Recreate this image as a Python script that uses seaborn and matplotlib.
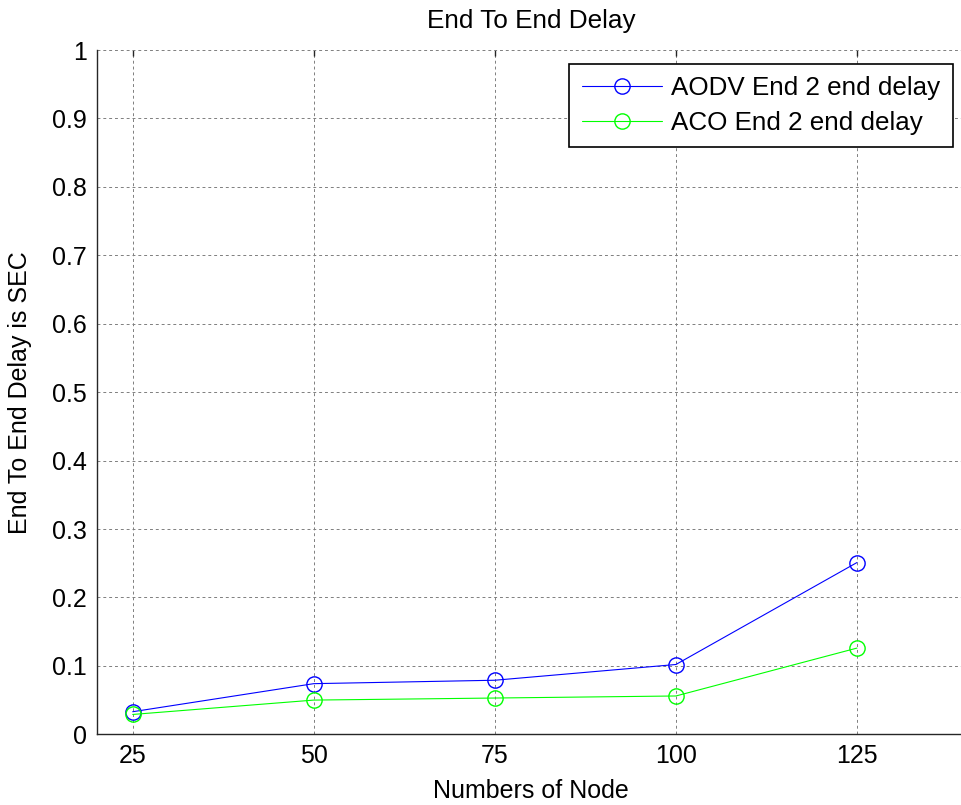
import matplotlib
matplotlib.use("Agg")
import matplotlib.pyplot as plt
import pandas as pd
import seaborn as sns


NODES = [25, 50, 75, 100, 125]
AODV_DELAY = [0.033, 0.074, 0.079, 0.102, 0.251]
ACO_DELAY = [0.029, 0.050, 0.053, 0.056, 0.126]
SERIES = ["AODV End 2 end delay", "ACO End 2 end delay"]
COLORS = ["#0000ff", "#00ff00"]
Y_TICKS = [0, 0.1, 0.2, 0.3, 0.4, 0.5, 0.6, 0.7, 0.8, 0.9, 1]
Y_TICK_LABELS = ["0", "0.1", "0.2", "0.3", "0.4", "0.5", "0.6", "0.7", "0.8", "0.9", "1"]


def main():
    sns.set_style("white")
    plt.rcParams["font.family"] = ["Liberation Sans", "DejaVu Sans"]
    plt.rcParams["text.color"] = "black"

    fig = plt.figure(figsize=(9.61, 8.05), dpi=100)
    # axes run a bit past the right edge of the picture, like the cropped original
    ax = fig.add_axes([96.5 / 961, 70.7 / 805, 869.1 / 961, 684.3 / 805])

    for name, values, color in zip(SERIES, [AODV_DELAY, ACO_DELAY], COLORS):
        df = pd.DataFrame({"nodes": NODES, "delay": values})
        sns.lineplot(
            data=df, x="nodes", y="delay", ax=ax, color=color, label=name,
            linewidth=0.8, marker="o", markersize=11, markerfacecolor="none",
            markeredgecolor=color, markeredgewidth=1.0,
        )

    ax.set_xlim(20, 140)
    ax.set_ylim(0, 1)
    ax.set_xticks(NODES)
    ax.set_yticks(Y_TICKS)
    ax.set_yticklabels(Y_TICK_LABELS)
    ax.grid(True, linestyle=(0, (3, 3)), color="#7f7f7f", linewidth=0.7)

    for side in ["top", "right"]:
        ax.spines[side].set_visible(False)
    for side in ["left", "bottom"]:
        ax.spines[side].set_color("#262626")
        ax.spines[side].set_linewidth(1.0)

    ax.tick_params(direction="in", length=4, width=1, labelsize=18,
                   colors="#262626", labelcolor="black", pad=7, top=True)

    ax.set_title("End To End Delay", fontsize=18.8, pad=16, color="black")
    ax.set_xlabel("Numbers of Node", fontsize=18, labelpad=8, color="black")
    ax.set_ylabel("End To End Delay is SEC", fontsize=18, labelpad=14, color="black")

    leg = ax.legend(
        loc="upper right", bbox_to_anchor=(953 / 961, 1 - 64 / 805),
        bbox_transform=fig.transFigure, borderaxespad=0, fontsize=18.7,
        frameon=True, fancybox=False, shadow=False, framealpha=1,
        handlelength=3.1, handletextpad=0.35, labelspacing=0.4,
        borderpad=0.48, labelcolor="black",
    )
    leg.get_frame().set_edgecolor("black")
    leg.get_frame().set_linewidth(1.2)

    fig.savefig("out.png", dpi=100)


if __name__ == "__main__":
    main()
